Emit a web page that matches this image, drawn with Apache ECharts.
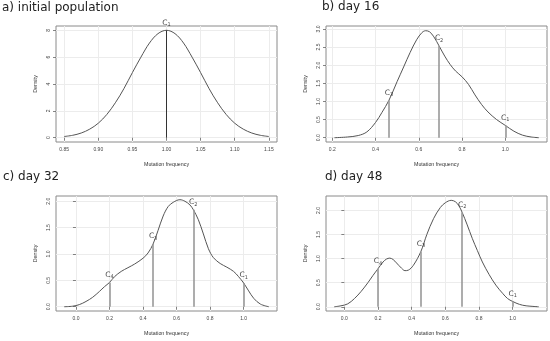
<!DOCTYPE html>
<html><head><meta charset="utf-8">
<script src="https://cdn.jsdelivr.net/npm/echarts@6/dist/echarts.min.js"></script>
<style>html,body{margin:0;padding:0;background:#fff}#c{width:550px;height:341px}</style>
</head><body><div id="c"></div>
<script>
// ---- data ----
const titles = ['a) initial population', 'b) day 16', 'c) day 32', 'd) day 48'];

const aX = [0.85,0.8625,0.875,0.8875,0.90,0.9125,0.925,0.9375,0.95,0.9625,0.975,0.9875,1.00,1.0125,1.025,1.0375,1.05,1.0625,1.075,1.0875,1.10,1.1125,1.125,1.1375,1.15];
const aY = [0.09,0.18,0.35,0.64,1.08,1.73,2.6,3.65,4.85,6.0,7.05,7.75,8.0,7.75,7.05,6.0,4.85,3.65,2.6,1.73,1.08,0.64,0.35,0.18,0.09];

const bX = [0.21,0.27,0.32,0.36,0.40,0.43,0.462,0.50,0.53,0.56,0.59,0.615,0.632,0.65,0.67,0.694,0.72,0.745,0.77,0.80,0.83,0.86,0.89,0.92,0.96,1.00,1.04,1.08,1.12,1.155];
const bY = [0.00,0.02,0.06,0.16,0.42,0.70,1.03,1.55,1.95,2.35,2.70,2.90,2.95,2.92,2.78,2.53,2.25,2.02,1.84,1.68,1.47,1.18,0.92,0.71,0.50,0.34,0.18,0.07,0.02,0.00];

const cX = [-0.07,-0.02,0.02,0.06,0.10,0.14,0.17,0.20,0.23,0.27,0.31,0.35,0.40,0.43,0.46,0.49,0.52,0.55,0.58,0.62,0.65,0.68,0.70,0.73,0.76,0.79,0.82,0.86,0.90,0.94,0.97,1.00,1.03,1.06,1.10,1.15];
const cY = [0.00,0.01,0.04,0.10,0.18,0.29,0.38,0.46,0.57,0.67,0.74,0.81,0.92,1.02,1.19,1.45,1.72,1.90,1.98,2.03,2.00,1.93,1.84,1.65,1.38,1.10,0.93,0.82,0.75,0.67,0.57,0.45,0.30,0.16,0.05,0.00];

const dX = [-0.06,-0.02,0.02,0.06,0.10,0.14,0.17,0.20,0.23,0.25,0.27,0.29,0.31,0.34,0.36,0.38,0.41,0.455,0.49,0.53,0.57,0.60,0.635,0.66,0.68,0.70,0.73,0.76,0.79,0.82,0.86,0.90,0.94,0.97,1.00,1.04,1.08,1.155];
const dY = [0.00,0.02,0.06,0.17,0.32,0.50,0.65,0.79,0.93,0.99,1.01,0.98,0.91,0.80,0.75,0.76,0.86,1.15,1.50,1.83,2.06,2.16,2.21,2.18,2.10,1.96,1.70,1.42,1.17,0.93,0.67,0.45,0.28,0.17,0.11,0.05,0.02,0.00];

// clone markers: position, density height, clone number
const aCloneX = [1.00];                 const aCloneH = [8.0];                    const aCloneId = ['1'];
const bCloneX = [1.00, 0.694, 0.462];   const bCloneH = [0.34, 2.53, 1.03];       const bCloneId = ['1','2','3'];
const cCloneX = [1.00, 0.70, 0.46, 0.20]; const cCloneH = [0.45, 1.84, 1.19, 0.46]; const cCloneId = ['1','2','3','4'];
const dCloneX = [1.00, 0.70, 0.455, 0.20]; const dCloneH = [0.11, 1.96, 1.15, 0.79]; const dCloneId = ['1','2','3','4'];

// tick labels
const aXTicks = [0.85,0.90,0.95,1.00,1.05,1.10,1.15];
const aYTicks = [0,2,4,6,8];
const bXTicks = [0.2,0.4,0.6,0.8,1.0];
const bYTicks = [0,0.5,1.0,1.5,2.0,2.5,3.0];
const cXTicks = [0.0,0.2,0.4,0.6,0.8,1.0];
const cYTicks = [0,0.5,1.0,1.5,2.0];
const dXTicks = [0.0,0.2,0.4,0.6,0.8,1.0];
const dYTicks = [0,0.5,1.0,1.5,2.0];

const xName = 'Mutation frequency';
const yName = 'Density';

// ---- layout / style ----
const panels = [
  {x:aX, y:aY, cx:aCloneX, ch:aCloneH, cid:aCloneId, xt:aXTicks, yt:aYTicks, xr:[0.838,1.162], yr:[-0.32,8.32], xd:2, yd:0,
   grid:{left:56, top:26, width:221, height:116}, title:[2,2], vcol:'#333', vw:1},
  {x:bX, y:bY, cx:bCloneX, ch:bCloneH, cid:bCloneId, xt:bXTicks, yt:bYTicks, xr:[0.171,1.193], yr:[-0.118,3.08], xd:1, yd:1,
   grid:{left:326, top:26, width:221, height:116}, title:[322,1], vcol:'#999', vw:1.6},
  {x:cX, y:cY, cx:cCloneX, ch:cCloneH, cid:cCloneId, xt:cXTicks, yt:cYTicks, xr:[-0.119,1.199], yr:[-0.081,2.10], xd:1, yd:1,
   grid:{left:56, top:196, width:221, height:115}, title:[3,171], vcol:'#999', vw:1.6},
  {x:dX, y:dY, cx:dCloneX, ch:dCloneH, cid:dCloneId, xt:dXTicks, yt:dYTicks, xr:[-0.109,1.204], yr:[-0.088,2.30], xd:1, yd:1,
   grid:{left:326, top:196, width:221, height:115}, title:[325,171], vcol:'#999', vw:1.6}
];

const tickFont = {fontFamily:'Liberation Sans, Arial, sans-serif', fontSize:5, color:'#444'};
const grids = [], xAxes = [], yAxes = [], series = [], titleOpts = [];

panels.forEach((p, i) => {
  grids.push(Object.assign({show:true, borderColor:'#8a8a8a', borderWidth:1, backgroundColor:'transparent'}, p.grid));
  titleOpts.push({text: titles[i], left: p.title[0], top: p.title[1], padding:0,
    textStyle:{fontFamily:'DejaVu Sans, Verdana, sans-serif', fontSize:12, fontWeight:'normal', color:'#222'}});
  xAxes.push({type:'value', gridIndex:i, min:p.xr[0], max:p.xr[1],
    name:xName, nameLocation:'middle', nameGap:20,
    nameTextStyle:{fontFamily:'Liberation Sans, Arial, sans-serif', fontSize:5.3, color:'#333'},
    axisLine:{show:false},
    axisTick:{show:true, length:3, inside:false, customValues:p.xt, lineStyle:{color:'#666', width:0.8}},
    axisLabel:Object.assign({show:true, margin:5, customValues:p.xt, formatter:v => Number(v).toFixed(p.xd)}, tickFont),
    splitLine:{show:true, lineStyle:{color:'#ececec', width:1}}});
  yAxes.push({type:'value', gridIndex:i, min:p.yr[0], max:p.yr[1],
    name:yName, nameLocation:'middle', nameGap:18,
    nameTextStyle:{fontFamily:'Liberation Sans, Arial, sans-serif', fontSize:5.3, color:'#333'},
    axisLine:{show:false},
    axisTick:{show:true, length:3, inside:false, customValues:p.yt, lineStyle:{color:'#666', width:0.8}},
    axisLabel:Object.assign({show:true, margin:5, rotate:90, customValues:p.yt, formatter:v => Number(v).toFixed(p.yd)}, tickFont),
    splitLine:{show:true, lineStyle:{color:'#ececec', width:1}}});
  series.push({type:'line', xAxisIndex:i, yAxisIndex:i, data:p.x.map((v,k)=>[v,p.y[k]]),
    smooth:0.35, showSymbol:false, symbol:'none', silent:true,
    lineStyle:{color:'#555', width:1}, z:3});
  series.push({type:'scatter', xAxisIndex:i, yAxisIndex:i, symbolSize:0, silent:true, z:4,
    data:p.cx.map((v,k)=>[v, p.ch[k], p.cid[k]]),
    label:{show:true, position:'top', distance:3,
      formatter: q => '{c|C}{s|' + q.data[2] + '}',
      rich:{c:{fontFamily:'DejaVu Sans, sans-serif', fontSize:7.5, color:'#111'},
            s:{fontFamily:'DejaVu Sans, sans-serif', fontSize:5, color:'#111', padding:[4,0,0,0]}}},
    markLine:{symbol:['none','none'], silent:true, animation:false, label:{show:false},
      lineStyle:{color:p.vcol, width:p.vw, type:'solid'},
      data:p.cx.map((v,k)=>[{coord:[v,0]},{coord:[v,p.ch[k]]}])}});
});

const chart = echarts.init(document.getElementById('c'), null, {renderer:'canvas'});
chart.setOption({animation:false, backgroundColor:'#fff', title:titleOpts, grid:grids, xAxis:xAxes, yAxis:yAxes, series:series});
</script></body></html>
